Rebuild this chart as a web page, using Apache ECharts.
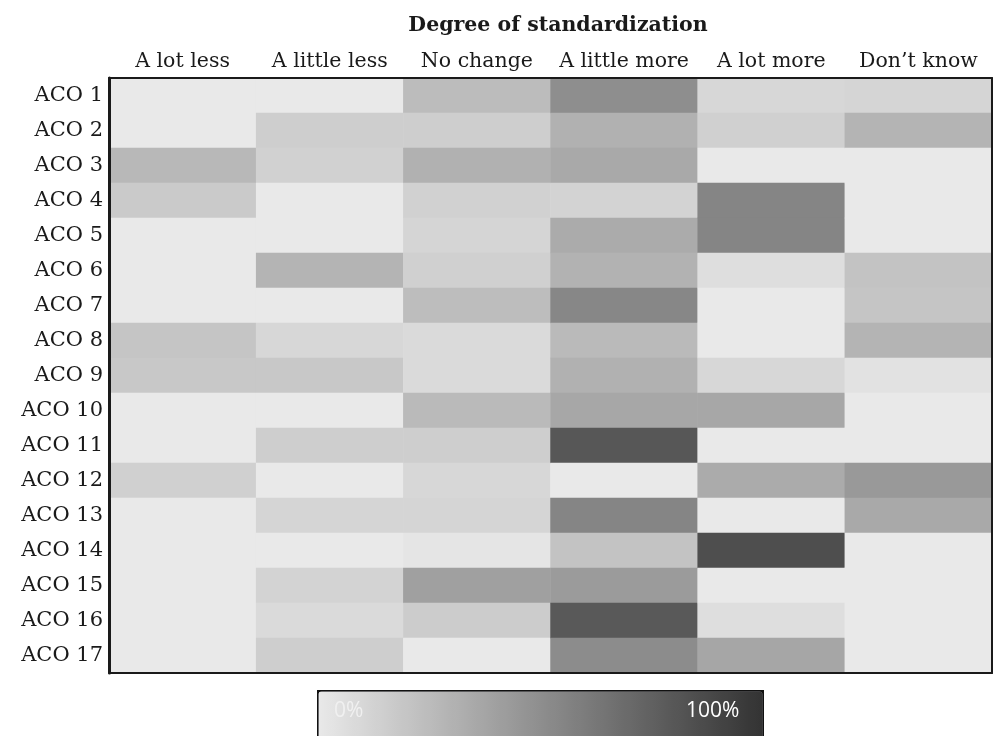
<!DOCTYPE html>
<html>
<head>
<meta charset="utf-8">
<script src="https://cdn.jsdelivr.net/npm/echarts@6/dist/echarts.min.js"></script>
<style>
html,body{margin:0;padding:0;background:#fff;}
#chart{width:994px;height:736px;}
</style>
</head>
<body>
<div id="chart"></div>
<script>
const titleText = 'Degree of standardization';
const columns = ['A lot less', 'A little less', 'No change', 'A little more', 'A lot more', 'Don\u2019t know'];
const rows = ['ACO 1','ACO 2','ACO 3','ACO 4','ACO 5','ACO 6','ACO 7','ACO 8','ACO 9','ACO 10','ACO 11','ACO 12','ACO 13','ACO 14','ACO 15','ACO 16','ACO 17'];
// percentage per ACO (rows) for each response (columns)
const aLotLess    = [0, 0, 27, 17, 0, 0, 0, 20, 18, 0, 0, 14, 0, 0, 0, 0, 0];
const aLittleLess = [0, 15, 13, 0, 0, 29, 0, 10, 18, 0, 15, 0, 11, 0, 12, 8, 15];
const noChange    = [25, 15, 31, 13, 11, 14, 24, 8, 8, 26, 15, 10, 11, 2, 40, 16, 0];
const aLittleMore = [50, 31, 35, 12, 34, 30, 54, 26, 31, 36, 80, 0, 55, 21, 43, 79, 51];
const aLotMore    = [10, 14, 0, 55, 55, 6, 0, 0, 10, 36, 0, 34, 0, 85, 0, 6, 37];
const dontKnow    = [11, 29, 0, 0, 0, 21, 20, 29, 4, 0, 0, 44, 35, 0, 0, 0, 0];
const legendLabels = ['0%', '100%'];

const seriesCols = [aLotLess, aLittleLess, noChange, aLittleMore, aLotMore, dontKnow];
const data = [];
seriesCols.forEach((col, ci) => col.forEach((v, ri) => data.push([ci, ri, v])));

const serif = 'DejaVu Serif';
const chart = echarts.init(document.getElementById('chart'));
const frameLine = {show: true, lineStyle: {color: '#1a1a1a', width: 2}};
chart.setOption({
  backgroundColor: '#fff',
  animation: false,
  title: {
    text: titleText, left: 553, textAlign: 'center', top: 10,
    textStyle: {fontFamily: serif, fontWeight: 'bold', fontSize: 20.5, color: '#1a1a1a'}
  },
  grid: {left: 109, right: 2, top: 78, bottom: 63},
  xAxis: [
    {type: 'category', data: columns, position: 'top', z: 10,
     axisLine: frameLine, axisTick: {show: false}, splitLine: {show: false},
     axisLabel: {interval: 0, fontFamily: serif, fontSize: 20.5, color: '#1a1a1a', margin: 6}},
    {type: 'category', data: columns, position: 'bottom', z: 10,
     axisLine: frameLine, axisTick: {show: false}, axisLabel: {show: false}, splitLine: {show: false}}
  ],
  yAxis: [
    {type: 'category', data: rows, inverse: true, position: 'left', z: 10,
     axisLine: {show: true, lineStyle: {color: '#1a1a1a', width: 3}}, axisTick: {show: false}, splitLine: {show: false},
     axisLabel: {interval: 0, fontFamily: serif, fontSize: 21, color: '#1a1a1a', margin: 6}},
    {type: 'category', data: rows, inverse: true, position: 'right', z: 10,
     axisLine: frameLine, axisTick: {show: false}, axisLabel: {show: false}, splitLine: {show: false}}
  ],
  visualMap: {
    type: 'continuous', min: 0, max: 100, orient: 'horizontal', calculable: false,
    left: 317, top: 690, itemWidth: 48, itemHeight: 444, padding: 0, text: null,
    showLabel: false, hoverLink: false,
    borderColor: '#111', borderWidth: 3,
    inRange: {color: ['#e9e9e9', '#333333']}
  },
  graphic: [
    {type: 'text', left: 334, top: 701, z: 100,
     style: {text: legendLabels[0], fill: '#f0f0f0', font: '21px "Open Sans"'}},
    {type: 'text', left: 686, top: 701, z: 100,
     style: {text: legendLabels[1], fill: '#ffffff', font: '21px "Open Sans"'}}
  ],
  series: [{
    type: 'heatmap', data: data, xAxisIndex: 0, yAxisIndex: 0,
    itemStyle: {borderWidth: 0},
    emphasis: {disabled: true}
  }]
});
</script>
</body>
</html>
